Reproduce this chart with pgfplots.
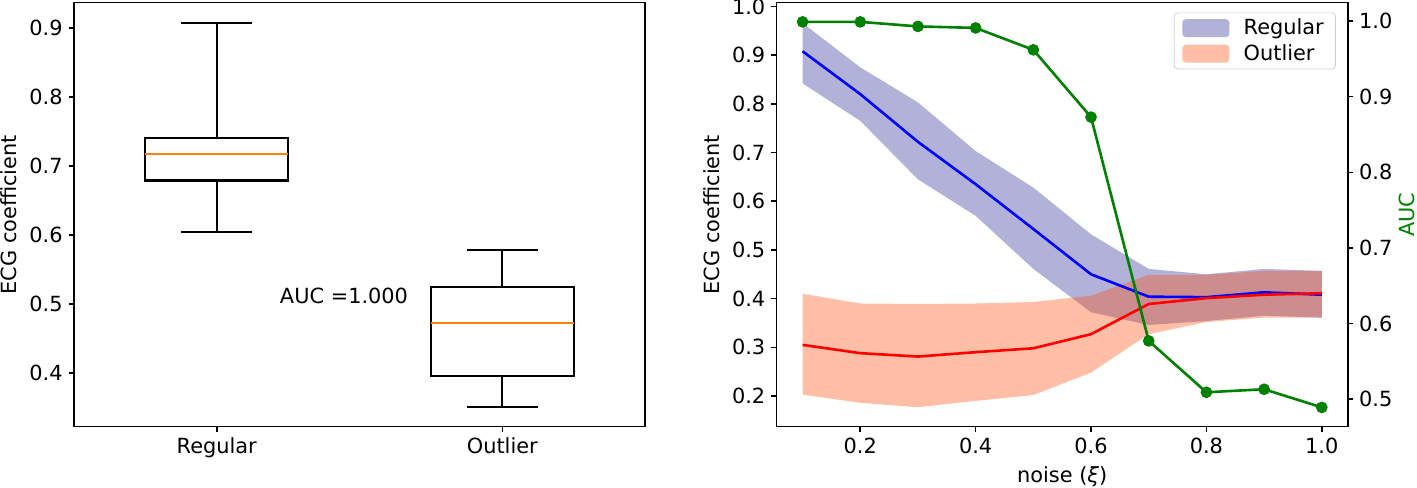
\documentclass[border=0pt]{standalone}
\usepackage{fontspec}
\setmainfont{DejaVu Sans}
\usepackage{pgfplots}
\usepackage{pgfplotstable}
\pgfplotsset{compat=1.18}
\usepgfplotslibrary{statistics}

\definecolor{mplorange}{HTML}{FF7F0E}
\definecolor{aucgreen}{HTML}{008000}
\definecolor{regfill}{HTML}{000080}
\definecolor{outfill}{HTML}{FF4500}

% noise sweep: mean of each group and the AUC between them
\pgfplotstableread{
noise regmean outmean auc
0.1 0.908 0.305 0.999
0.2 0.820 0.288 0.999
0.3 0.722 0.281 0.993
0.4 0.635 0.290 0.991
0.5 0.543 0.298 0.962
0.6 0.450 0.327 0.873
0.7 0.404 0.389 0.577
0.8 0.403 0.401 0.509
0.9 0.413 0.408 0.513
1.0 0.408 0.411 0.489
}\sweep

% bands as closed outlines: upper edge left to right, lower edge back
\pgfplotstableread{
noise y
0.1 0.966
0.2 0.875
0.3 0.803
0.4 0.703
0.5 0.628
0.6 0.532
0.7 0.461
0.8 0.450
0.9 0.461
1.0 0.457
1.0 0.361
0.9 0.365
0.8 0.354
0.7 0.346
0.6 0.372
0.5 0.461
0.4 0.570
0.3 0.645
0.2 0.765
0.1 0.842
}\regband

\pgfplotstableread{
noise y
0.1 0.410
0.2 0.390
0.3 0.389
0.4 0.390
0.5 0.393
0.6 0.406
0.7 0.449
0.8 0.449
0.9 0.457
1.0 0.457
1.0 0.361
0.9 0.361
0.8 0.352
0.7 0.327
0.6 0.248
0.5 0.202
0.4 0.190
0.3 0.177
0.2 0.186
0.1 0.203
}\outband

\newcommand{\mplfont}{\fontsize{12}{14.4}\selectfont}

\pgfplotsset{
  mpl/.style={
    scale only axis, width=328.2pt, height=243.7pt, anchor=south west,
    axis line style={line width=0.9pt},
    tick style={black, line width=0.9pt}, major tick length=3pt, tick align=outside,
    tick label style={font=\mplfont},
    label style={font=\mplfont},
    /pgf/number format/assume math mode=true,
    /pgf/number format/fixed, /pgf/number format/fixed zerofill,
    /pgf/number format/precision=1,
  },
  mplbox/.style={black, line width=1.2pt,
    boxplot/draw direction=y,
    boxplot/every median/.style={draw=mplorange, line width=1.2pt}},
}

\begin{document}
\begin{tikzpicture}
\path[use as bounding box] (-42.5pt,-35.2pt) rectangle (771.8pt,245.2pt);

% left: box plots
\begin{axis}[mpl, at={(0pt,0pt)},
  xmin=0.5, xmax=2.5, ymin=0.322, ymax=0.937,
  xtick={1,2}, xticklabels={Regular,Outlier},
  ytick={0.4,0.5,0.6,0.7,0.8,0.9},
  xtick pos=bottom, ytick pos=left,
  ylabel={ECG coefficient},
  ylabel style={at={(axis description cs:-0.114,0.5)}, anchor=center},
]
\addplot[mplbox,
  boxplot prepared={draw position=1, lower whisker=0.604, lower quartile=0.679,
    median=0.718, upper quartile=0.741, upper whisker=0.908,
    box extend=0.5, whisker extend=0.25}] coordinates {};
\addplot[mplbox,
  boxplot prepared={draw position=2, lower whisker=0.350, lower quartile=0.396,
    median=0.473, upper quartile=0.525, upper whisker=0.578,
    box extend=0.5, whisker extend=0.25}] coordinates {};
\node[anchor=base west, font=\mplfont] at (axis cs:1.2,0.5) {AUC =1.000};
\end{axis}

% right: coefficient vs noise
\begin{axis}[mpl, at={(403.8pt,0pt)},
  xmin=0.055, xmax=1.045, ymin=0.137, ymax=1.008,
  xtick={0.2,0.4,0.6,0.8,1.0},
  ytick={0.2,0.3,0.4,0.5,0.6,0.7,0.8,0.9,1.0},
  xtick pos=bottom, ytick pos=left,
  xlabel={noise ({\itshape ξ})},
  xlabel style={at={(axis description cs:0.5,-0.118)}, anchor=center},
  ylabel={ECG coefficient},
  ylabel style={at={(axis description cs:-0.114,0.5)}, anchor=center},
  legend cell align=left,
  legend style={at={(0.979,0.9766)}, anchor=north east, draw=black!20,
    rounded corners=2pt, fill=white, fill opacity=0.8, text opacity=1,
    font=\mplfont, row sep=0pt, inner xsep=4.7pt, inner ysep=1.5pt,
    /tikz/every odd column/.append style={column sep=6.2pt}},
]
\addplot[fill=regfill, fill opacity=0.3, draw=none,
  legend image code/.code={\fill[regfill, fill opacity=0.3] (0pt,-5.15pt) rectangle (27pt,5.15pt);}]
  table[x=noise, y=y] {\regband};
\addlegendentry{Regular}
\addplot[fill=outfill, fill opacity=0.35, draw=none,
  legend image code/.code={\fill[outfill, fill opacity=0.35] (0pt,-5.15pt) rectangle (27pt,5.15pt);}]
  table[x=noise, y=y] {\outband};
\addlegendentry{Outlier}
\addplot[blue, line width=1.5pt, forget plot] table[x=noise, y=regmean] {\sweep};
\addplot[red, line width=1.5pt, forget plot] table[x=noise, y=outmean] {\sweep};
\end{axis}

% right: AUC on the twin axis
\begin{axis}[mpl, at={(403.8pt,0pt)},
  xmin=0.055, xmax=1.045, ymin=0.4635, ymax=1.0245,
  hide x axis, axis y line*=right, ytick pos=right,
  ytick={0.5,0.6,0.7,0.8,0.9,1.0},
  ylabel={AUC},
  ylabel style={at={(axis description cs:1.103,0.5)}, anchor=center, text=aucgreen},
]
\addplot[aucgreen, line width=1.5pt, mark=*, mark size=3.1pt,
  mark options={fill=aucgreen, draw=aucgreen, line width=0.5pt}] table[x=noise, y=auc] {\sweep};
\end{axis}
\end{tikzpicture}
\end{document}
